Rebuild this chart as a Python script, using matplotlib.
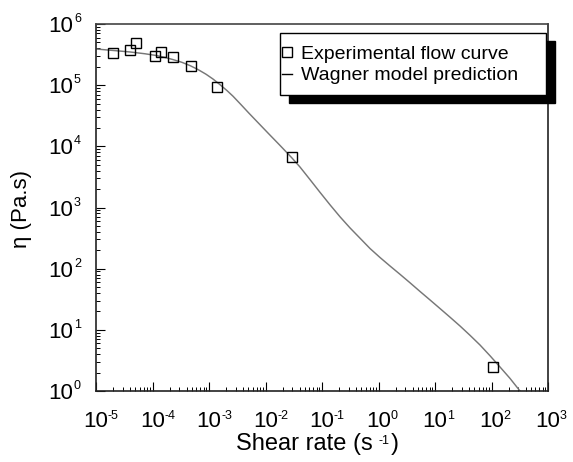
import matplotlib
matplotlib.use('Agg')
import matplotlib.pyplot as plt
import matplotlib.transforms as mtransforms
from matplotlib.patches import Rectangle
from matplotlib.lines import Line2D
from matplotlib.ticker import LogLocator, NullFormatter

plt.rcParams['font.family'] = ['Liberation Sans', 'DejaVu Sans']
plt.rcParams['mathtext.fontset'] = 'custom'
plt.rcParams['mathtext.rm'] = 'Liberation Sans'

# ---- data ----
shear_exp = [2.0e-5, 4.0e-5, 5.1e-5, 1.1e-4, 1.4e-4, 2.3e-4, 4.8e-4, 1.38e-3, 2.95e-2, 107.0]
eta_exp = [3.35e5, 3.75e5, 4.9e5, 2.98e5, 3.47e5, 2.9e5, 2.05e5, 9.3e4, 6.6e3, 2.5]

shear_model = [1.00e-5, 2.17e-5, 4.00e-5, 7.37e-5, 1.201e-4, 1.664e-4, 2.306e-4,
               3.326e-4, 4.61e-4, 6.39e-4, 8.85e-4, 1.177e-3, 1.565e-3, 2.083e-3,
               2.66e-3, 3.68e-3, 5.10e-3, 7.07e-3, 1.107e-2, 1.805e-2, 2.94e-2,
               4.08e-2, 6.13e-2, 9.22e-2, 0.1385, 0.2083, 0.3131, 0.4707, 0.7073,
               1.063, 1.598, 2.402, 3.61, 5.43, 8.16, 12.26, 18.43, 27.70, 41.65,
               62.6, 94.1, 141.4, 212.5, 319.5]
eta_model = [3.90e5, 3.67e5, 3.49e5, 3.26e5, 3.04e5, 2.84e5, 2.62e5, 2.36e5,
             2.09e5, 1.80e5, 1.51e5, 1.26e5, 1.02e5, 8.15e4, 6.60e4, 4.81e4,
             3.48e4, 2.54e4, 1.65e4, 1.036e4, 6.45e3, 4.59e3, 2.86e3, 1.77e3,
             1.108e3, 705.0, 464.0, 315.0, 213.7, 152.3, 110.6, 80.9, 58.8, 42.4,
             30.8, 22.3, 16.1, 11.56, 8.14, 5.65, 3.77, 2.47, 1.608, 1.0]

x_exponents = [-5, -4, -3, -2, -1, 0, 1, 2, 3]
y_exponents = [0, 1, 2, 3, 4, 5, 6]
legend_labels = ["Experimental flow curve", "Wagner model prediction"]
xlabel_text = "Shear rate (s"
xlabel_exp = "-1"
ylabel_text = "\u03b7 (Pa.s)"

W, H = 573, 462
fig = plt.figure(figsize=(W / 100, H / 100), dpi=100)
L, R, T, B = 96, 548, 24, 391
ax = fig.add_axes([L / W, 1 - B / H, (R - L) / W, (B - T) / H])
# pixel transform (top-left origin)
PX = mtransforms.Affine2D().scale(1 / W, -1 / H).translate(0, 1) + fig.transFigure

ax.set_xscale('log')
ax.set_yscale('log')
ax.set_xlim(1e-5, 1e3)
ax.set_ylim(1, 1e6)

ax.plot(shear_model, eta_model, color='#777777', lw=1.05, zorder=2,
        solid_joinstyle='round')
ax.plot(shear_exp, eta_exp, ls='none', marker='s', ms=7.2, mfc='none',
        mec='black', mew=1.0, zorder=3)

for a in (ax.xaxis, ax.yaxis):
    a.set_major_locator(LogLocator(base=10, numticks=20))
    a.set_minor_locator(LogLocator(base=10, subs=range(2, 10), numticks=20))
    a.set_minor_formatter(NullFormatter())
ax.tick_params(which='both', direction='in', top=False, right=False,
               labelbottom=False, labelleft=False, color='black')
ax.tick_params(which='major', length=6.5, width=0.8)
ax.tick_params(which='minor', length=3.0, width=0.7)
for s in ax.spines.values():
    s.set_linewidth(1.2)
    s.set_color('#222222')
ax.spines['top'].set_color('#444444')

k = 0.72  # px -> points
for e in x_exponents:
    ax.annotate('10', xy=(10.0 ** e, 0), xycoords=('data', 'axes fraction'),
                xytext=(0, -36 * k), textcoords='offset points',
                ha='center', va='baseline', fontsize=16)
    ax.annotate(('-' + str(-e)) if e < 0 else str(e), xy=(10.0 ** e, 0),
                xycoords=('data', 'axes fraction'),
                xytext=(12 * k, -28 * k), textcoords='offset points',
                ha='left', va='baseline', fontsize=9)
for e in y_exponents:
    ax.annotate('10', xy=(0, 10.0 ** e), xycoords=('axes fraction', 'data'),
                xytext=(-23 * k, -8 * k), textcoords='offset points',
                ha='right', va='baseline', fontsize=16)
    ax.annotate(str(e), xy=(0, 10.0 ** e), xycoords=('axes fraction', 'data'),
                xytext=(-22 * k, 2 * k), textcoords='offset points',
                ha='left', va='baseline', fontsize=9)

# axis labels
t1 = fig.text(236 / W, 1 - 450 / H, xlabel_text, ha='left', va='baseline', fontsize=17)
t2 = ax.annotate(xlabel_exp, xy=(1, 1), xycoords=t1, xytext=(6 * k, -2 * k),
                 textcoords='offset points', ha='left', va='top', fontsize=9)
t3 = ax.annotate(')', xy=(1, 0), xycoords=(t2, t1), xytext=(1 * k, 0),
                 textcoords='offset points', ha='left', va='bottom', fontsize=17)
fig.text(22 / W, 1 - 209 / H, ylabel_text, rotation=90, ha='center', va='center',
         fontsize=16)

# legend (boxed, with black drop shadow)
bx0, bx1, by0, by1 = 280, 546, 33, 95
ax.add_patch(Rectangle((bx0 + 9, by0 + 8), bx1 - bx0, by1 - by0, transform=PX,
                       facecolor='black', edgecolor='black', clip_on=False, zorder=8))
ax.add_patch(Rectangle((bx0, by0), bx1 - bx0, by1 - by0, transform=PX,
                       facecolor='white', edgecolor='black', lw=1.0, clip_on=False, zorder=9))
ax.add_line(Line2D([286.5], [52], transform=PX, ls='none', marker='s', ms=6.5,
                   mfc='none', mec='black', mew=1.0, clip_on=False, zorder=10))
ax.add_line(Line2D([282, 292], [74, 74], transform=PX, color='black', lw=1.0,
                   clip_on=False, zorder=10))
ax.text(301, 59, legend_labels[0], transform=PX, ha='left', va='baseline',
        fontsize=14, zorder=11)
ax.text(301, 80, legend_labels[1], transform=PX, ha='left', va='baseline',
        fontsize=14, zorder=11)

fig.savefig('out.png', dpi=100)
